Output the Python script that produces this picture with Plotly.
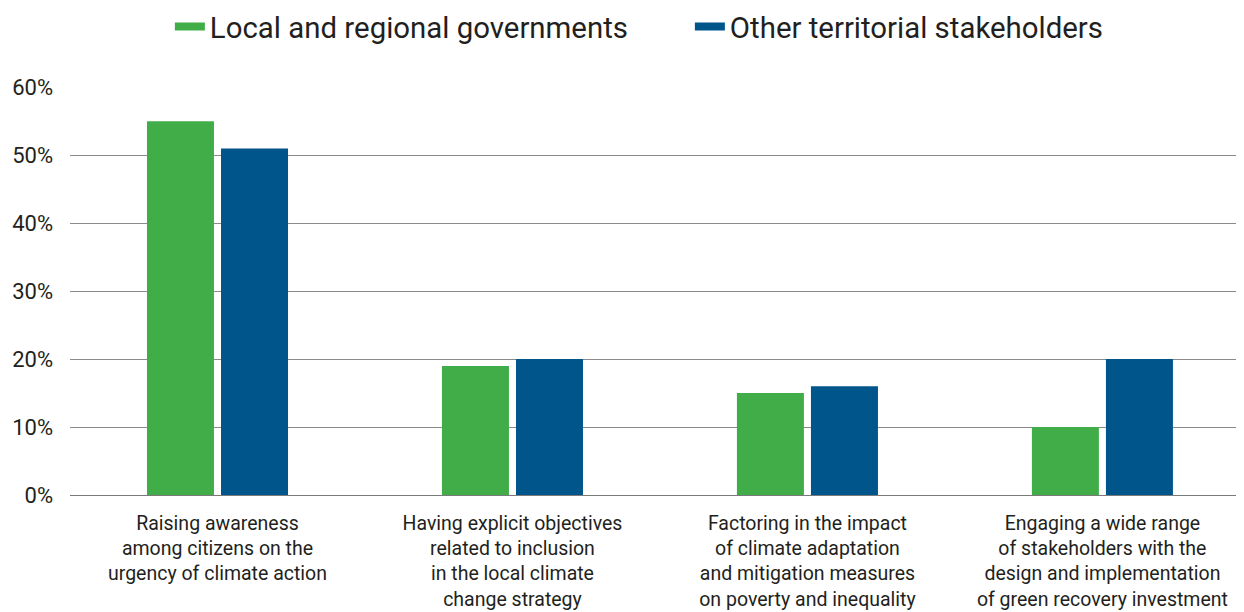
import plotly.graph_objects as go

categories = [
    "Raising awareness<br>among citizens on the<br>urgency of climate action",
    "Having explicit objectives<br>related to inclusion<br>in the local climate<br>change strategy",
    "Factoring in the impact<br>of climate adaptation<br>and mitigation measures<br>on poverty and inequality",
    "Engaging a wide range<br>of stakeholders with the<br>design and implementation<br>of green recovery investment",
]
series_names = ["Local and regional governments", "Other territorial stakeholders"]
local_regional = [55, 19, 15, 10]
other_stakeholders = [51, 20, 16, 20]
tick_vals = [0, 10, 20, 30, 40, 50, 60]
tick_text = ["0%", "10%", "20%", "30%", "40%", "50%", "60%"]

GREEN = "#41AD49"
BLUE = "#00558A"

W, H = 1236, 604

fig = go.Figure()
for name, vals, col in [(series_names[0], local_regional, GREEN),
                        (series_names[1], other_stakeholders, BLUE)]:
    fig.add_trace(go.Bar(x=list(range(len(categories))), y=vals, name=name,
                         marker=dict(color=col, line=dict(width=0)),
                         showlegend=False, hoverinfo="y"))
for name, col in [(series_names[0], GREEN), (series_names[1], BLUE)]:
    fig.add_trace(go.Scatter(x=[None], y=[None], mode="lines", name=name,
                             line=dict(color=col, width=8)))

fig.update_layout(
    width=W, height=H,
    margin=dict(l=62, r=0, t=79, b=H - 487, autoexpand=False),
    paper_bgcolor="white", plot_bgcolor="white",
    barmode="group", bargap=0.498, bargroupgap=0.095,
    font=dict(family="Roboto", color="#231f20"),
    legend=dict(orientation="h", x=0.528, xanchor="center",
                y=1 - 19 / H, yanchor="middle", yref="container",
                font=dict(size=29.4, color="#231f20"), itemwidth=30,
                entrywidth=475, traceorder="normal"),
    xaxis=dict(range=[-0.5, 3.48], tickmode="array", automargin=False,
               tickvals=list(range(len(categories))), ticktext=categories,
               showgrid=False, zeroline=False, showline=False,
               ticks="", tickfont=dict(size=19.5, color="#231f20"),
               ticklabelstandoff=14),
    yaxis=dict(range=[0, 60.05], tickmode="array", tickvals=tick_vals,
               ticktext=tick_text, showgrid=True, gridcolor="#8a8a8a",
               automargin=False,
               gridwidth=1, zeroline=True, zerolinecolor="#7a7a7a",
               zerolinewidth=1, showline=False, ticks="",
               tickfont=dict(size=22, color="#231f20"), ticklabelstandoff=16),
)

fig.write_html("out.html")
